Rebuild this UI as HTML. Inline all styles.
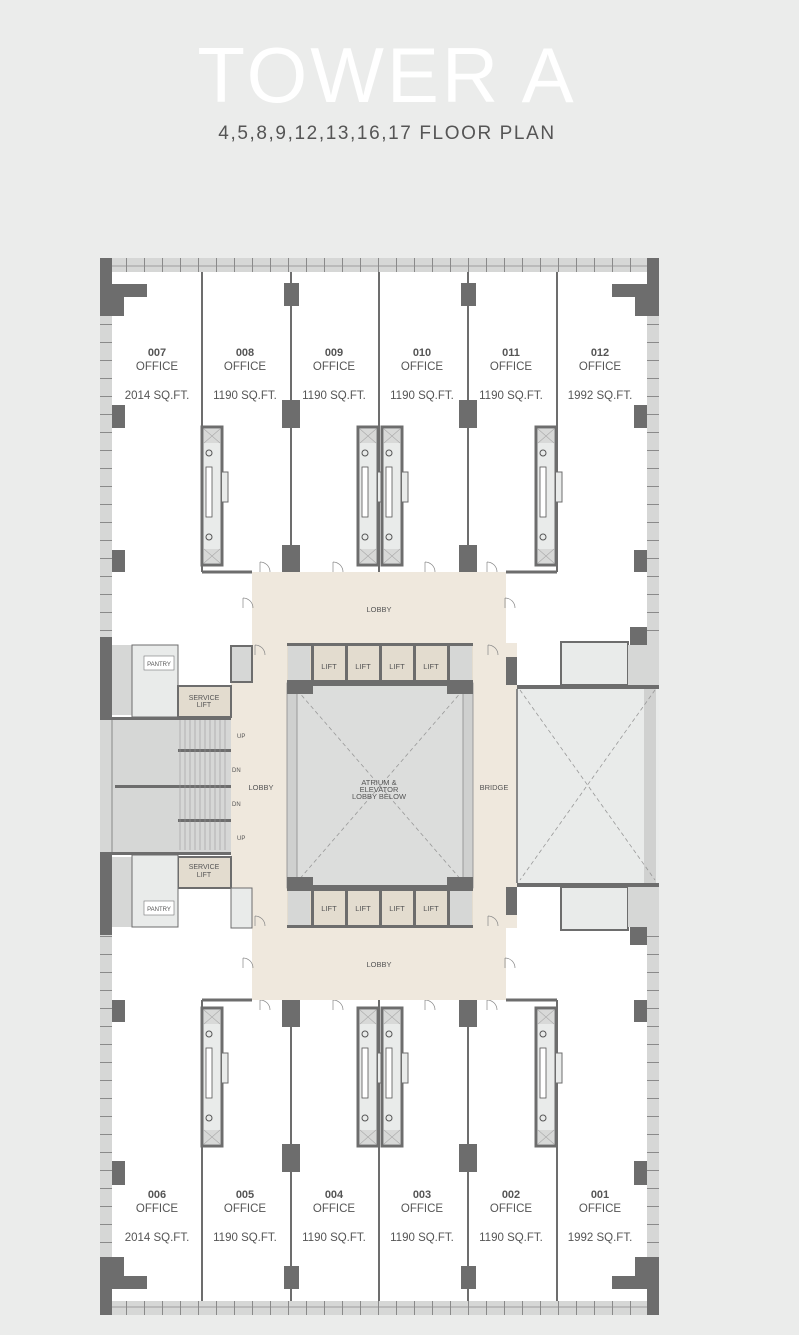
<!DOCTYPE html>
<html><head><meta charset="utf-8"><style>
html,body{margin:0;padding:0;background:#ebeceb;}
svg{display:block;font-family:"Liberation Sans",sans-serif;}
.t{fill:#555;text-anchor:middle;}
</style></head><body>
<svg width="799" height="1335" viewBox="0 0 799 1335" xmlns="http://www.w3.org/2000/svg">
<defs>
<pattern id="tick" width="18" height="14" patternUnits="userSpaceOnUse"><rect width="18" height="14" fill="#d6d7d6"/><line x1="0.5" y1="0" x2="0.5" y2="14" stroke="#8a8a8a"/></pattern>
<pattern id="vtick" width="10" height="18" patternUnits="userSpaceOnUse"><rect width="10" height="18" fill="#d6d7d6"/><line x1="0" y1="0.5" x2="10" y2="0.5" stroke="#8a8a8a"/></pattern>
<g id="core1">
 <rect x="0" y="0" width="20" height="138" fill="#e9ebea" stroke="#6d6d6d" stroke-width="3"/>
 <rect x="2" y="2" width="16" height="14" fill="#d8d9d8"/><path d="M2 2L18 16M18 2L2 16" stroke="#aaa" stroke-width=".6"/>
 <rect x="2" y="122" width="16" height="14" fill="#d8d9d8"/><path d="M2 122L18 136M18 122L2 136" stroke="#aaa" stroke-width=".6"/>
 <rect x="4" y="40" width="6" height="50" fill="#fff" stroke="#555" stroke-width=".8"/>
 <circle cx="7" cy="26" r="3" fill="none" stroke="#555"/><circle cx="7" cy="110" r="3" fill="none" stroke="#555"/>
 <path d="M20 45 L26 45 L26 75 L20 75" fill="#e9ebea" stroke="#6d6d6d" stroke-width="1"/>
</g>
<g id="door"><path d="M0 0 A10 10 0 0 1 10 10 M0 0V10" fill="none" stroke="#888" stroke-width=".7"/></g>
</defs>
<text x="387" y="102" font-size="78" fill="#fff" text-anchor="middle" letter-spacing="3">TOWER A</text>
<text x="387" y="139" font-size="19" fill="#555" text-anchor="middle" letter-spacing="1.6">4,5,8,9,12,13,16,17 FLOOR PLAN</text>

<rect x="100" y="258" width="559" height="1057" fill="#fff"/>
<rect x="112" y="258" width="535" height="14" fill="url(#tick)"/>
<line x1="112" y1="266" x2="647" y2="266" stroke="#8a8a8a" stroke-width=".8"/>
<rect x="112" y="1301" width="535" height="14" fill="url(#tick)"/>
<line x1="112" y1="1307" x2="647" y2="1307" stroke="#8a8a8a" stroke-width=".8"/>
<rect x="100" y="258" width="12" height="1057" fill="url(#vtick)"/>
<rect x="647" y="258" width="12" height="1057" fill="url(#vtick)"/>
<rect x="100" y="258" width="12" height="58" fill="#6d6d6d"/>
<path d="M112 284H147V297H124V316H112Z" fill="#6d6d6d"/>
<rect x="100" y="1257" width="12" height="58" fill="#6d6d6d"/>
<path d="M112 1276H147V1289H112Z M112 1257H124V1276H112Z" fill="#6d6d6d"/>
<rect x="647" y="258" width="12" height="58" fill="#6d6d6d"/>
<path d="M612 284H647V297H612Z M635 297H647V316H635Z" fill="#6d6d6d"/>
<rect x="647" y="1257" width="12" height="58" fill="#6d6d6d"/>
<path d="M612 1276H647V1289H612Z M635 1257H647V1276H635Z" fill="#6d6d6d"/>

<g stroke="#6d6d6d" stroke-width="2">
<line x1="202" y1="272" x2="202" y2="572"/><line x1="291" y1="272" x2="291" y2="572"/><line x1="379" y1="272" x2="379" y2="572"/><line x1="468" y1="272" x2="468" y2="572"/><line x1="557" y1="272" x2="557" y2="572"/>
<line x1="202" y1="1000" x2="202" y2="1301"/><line x1="291" y1="1000" x2="291" y2="1301"/><line x1="379" y1="1000" x2="379" y2="1301"/><line x1="468" y1="1000" x2="468" y2="1301"/><line x1="557" y1="1000" x2="557" y2="1301"/>
</g>
<g stroke="#6d6d6d" stroke-width="3">
<line x1="202" y1="572" x2="252" y2="572"/><line x1="506" y1="572" x2="557" y2="572"/>
<line x1="202" y1="1000" x2="252" y2="1000"/><line x1="506" y1="1000" x2="557" y2="1000"/>
</g>
<g fill="#6d6d6d">
<rect x="284" y="283" width="15" height="23"/><rect x="282" y="400" width="18" height="28"/><rect x="282" y="545" width="18" height="27"/>
<rect x="461" y="283" width="15" height="23"/><rect x="459" y="400" width="18" height="28"/><rect x="459" y="545" width="18" height="27"/>
<rect x="112" y="405" width="13" height="23"/><rect x="112" y="550" width="13" height="22"/>
<rect x="634" y="405" width="13" height="23"/><rect x="634" y="550" width="13" height="22"/>
<rect x="282" y="1000" width="18" height="27"/><rect x="282" y="1144" width="18" height="28"/><rect x="284" y="1266" width="15" height="23"/>
<rect x="459" y="1000" width="18" height="27"/><rect x="459" y="1144" width="18" height="28"/><rect x="461" y="1266" width="15" height="23"/>
<rect x="112" y="1000" width="13" height="22"/><rect x="112" y="1161" width="13" height="24"/>
<rect x="634" y="1000" width="13" height="22"/><rect x="634" y="1161" width="13" height="24"/>
</g>
<use href="#core1" x="202" y="427"/>
<use href="#core1" x="358" y="427"/><use href="#core1" x="382" y="427"/>
<use href="#core1" x="536" y="427"/>
<use href="#core1" x="202" y="1008"/>
<use href="#core1" x="358" y="1008"/><use href="#core1" x="382" y="1008"/>
<use href="#core1" x="536" y="1008"/>
<!-- doors along office fronts -->
<use href="#door" x="260" y="562"/><use href="#door" x="333" y="562"/><use href="#door" x="425" y="562"/><use href="#door" x="487" y="562"/>
<use href="#door" x="260" y="1000"/><use href="#door" x="333" y="1000"/><use href="#door" x="425" y="1000"/><use href="#door" x="487" y="1000"/>

<rect x="252" y="572" width="254" height="428" fill="#efe8dd"/>
<rect x="231" y="683" width="21" height="205" fill="#efe8dd"/>
<rect x="473" y="643" width="44" height="285" fill="#efe8dd"/>
<use href="#door" x="255" y="645"/><use href="#door" x="488" y="645"/>
<use href="#door" x="255" y="916"/><use href="#door" x="488" y="916"/>
<use href="#door" x="243" y="598"/><use href="#door" x="505" y="598"/>
<use href="#door" x="243" y="958"/><use href="#door" x="505" y="958"/>
<rect x="287" y="683" width="186" height="205" fill="#dcdddc"/>
<rect x="287" y="683" width="10" height="205" fill="#cfd0cf" stroke="#8a8a8a" stroke-width=".8"/>
<rect x="463" y="683" width="10" height="205" fill="#cfd0cf" stroke="#8a8a8a" stroke-width=".8"/>
<path d="M297 690L463 882M463 690L297 882" stroke="#999" stroke-width=".8" stroke-dasharray="4 3"/>
<g>
<rect x="287" y="643" width="186" height="40" fill="#e3dccf"/>
<rect x="287" y="643" width="186" height="3" fill="#6d6d6d"/>
<rect x="287" y="680" width="186" height="6" fill="#6d6d6d"/>
<rect x="287" y="680" width="26" height="14" fill="#6d6d6d"/><rect x="447" y="680" width="26" height="14" fill="#6d6d6d"/>
<rect x="288" y="646" width="22" height="34" fill="#d6d7d6"/><rect x="450" y="646" width="22" height="34" fill="#d6d7d6"/>
<g fill="#6d6d6d"><rect x="311" y="643" width="3" height="40"/><rect x="345" y="643" width="3" height="40"/><rect x="379" y="643" width="3" height="40"/><rect x="413" y="643" width="3" height="40"/><rect x="447" y="643" width="3" height="40"/></g>
<rect x="287" y="888" width="186" height="40" fill="#e3dccf"/>
<rect x="287" y="885" width="186" height="6" fill="#6d6d6d"/>
<rect x="287" y="925" width="186" height="3" fill="#6d6d6d"/>
<rect x="287" y="877" width="26" height="14" fill="#6d6d6d"/><rect x="447" y="877" width="26" height="14" fill="#6d6d6d"/>
<rect x="288" y="891" width="22" height="34" fill="#d6d7d6"/><rect x="450" y="891" width="22" height="34" fill="#d6d7d6"/>
<g fill="#6d6d6d"><rect x="311" y="888" width="3" height="40"/><rect x="345" y="888" width="3" height="40"/><rect x="379" y="888" width="3" height="40"/><rect x="413" y="888" width="3" height="40"/><rect x="447" y="888" width="3" height="40"/></g>
</g>
<g class="t" font-size="7.5">
<text x="329" y="669">LIFT</text><text x="363" y="669">LIFT</text><text x="397" y="669">LIFT</text><text x="431" y="669">LIFT</text>
<text x="329" y="911">LIFT</text><text x="363" y="911">LIFT</text><text x="397" y="911">LIFT</text><text x="431" y="911">LIFT</text>
<text x="379" y="612">LOBBY</text><text x="379" y="967">LOBBY</text>
<text x="261" y="790">LOBBY</text><text x="494" y="790">BRIDGE</text>
<text x="379" y="785">ATRIUM &amp;</text><text x="379" y="792">ELEVATOR</text><text x="379" y="799">LOBBY BELOW</text>
<text x="588" y="786">TERRACE</text><text x="588" y="793">BELOW</text>
</g>
<rect x="100" y="637" width="12" height="80" fill="#6d6d6d"/>
<rect x="112" y="645" width="20" height="70" fill="#d6d7d6"/>
<rect x="132" y="645" width="46" height="72" fill="#e9ebea" stroke="#6d6d6d" stroke-width="1"/>
<rect x="144" y="656" width="30" height="14" fill="#fff" stroke="#777" stroke-width=".6"/>
<text x="159" y="666" class="t" font-size="6">PANTRY</text>
<rect x="178" y="686" width="53" height="31" fill="#e3dccf" stroke="#6d6d6d" stroke-width="2"/>
<text x="204" y="700" class="t" font-size="7">SERVICE</text><text x="204" y="707" class="t" font-size="7">LIFT</text>
<rect x="231" y="646" width="21" height="36" fill="#d6d7d6" stroke="#6d6d6d" stroke-width="2"/>
<rect x="100" y="717" width="131" height="138" fill="#d6d7d6"/>
<rect x="100" y="717" width="131" height="3" fill="#6d6d6d"/>
<rect x="100" y="852" width="131" height="3" fill="#6d6d6d"/>
<rect x="115" y="785" width="116" height="3" fill="#6d6d6d"/>
<rect x="178" y="749" width="53" height="3" fill="#6d6d6d"/><rect x="178" y="819" width="53" height="3" fill="#6d6d6d"/>
<g stroke="#999" stroke-width=".6">
<path d="M180 720V850M185 720V850M190 720V850M195 720V850M200 720V850M205 720V850M210 720V850M215 720V850M220 720V850M225 720V850"/>
</g>
<line x1="112" y1="720" x2="112" y2="852" stroke="#888"/>
<g font-size="6" fill="#555"><text x="237" y="738">UP</text><text x="232" y="772">DN</text><text x="232" y="806">DN</text><text x="237" y="840">UP</text></g>
<rect x="178" y="857" width="53" height="31" fill="#e3dccf" stroke="#6d6d6d" stroke-width="2"/>
<text x="204" y="869" class="t" font-size="7">SERVICE</text><text x="204" y="877" class="t" font-size="7">LIFT</text>
<rect x="100" y="855" width="12" height="80" fill="#6d6d6d"/>
<rect x="112" y="857" width="20" height="70" fill="#d6d7d6"/>
<rect x="132" y="855" width="46" height="72" fill="#e9ebea" stroke="#6d6d6d" stroke-width="1"/>
<rect x="144" y="901" width="30" height="14" fill="#fff" stroke="#777" stroke-width=".6"/>
<text x="159" y="911" class="t" font-size="6">PANTRY</text>
<rect x="231" y="888" width="21" height="40" fill="#e9ebea" stroke="#6d6d6d" stroke-width="1"/>

<rect x="517" y="685" width="142" height="202" fill="#e9ebea"/>
<rect x="517" y="685" width="142" height="4" fill="#6d6d6d"/>
<rect x="517" y="883" width="142" height="4" fill="#6d6d6d"/>
<rect x="644" y="689" width="12" height="194" fill="#d0d1d0"/>
<line x1="517" y1="689" x2="517" y2="883" stroke="#888" stroke-width="2"/>
<path d="M520 690L655 880M655 690L520 880" stroke="#999" stroke-width=".8" stroke-dasharray="4 3"/>
<rect x="561" y="642" width="67" height="43" fill="#e9ebea" stroke="#6d6d6d" stroke-width="2"/>
<rect x="628" y="645" width="31" height="40" fill="#d6d7d6"/>
<rect x="630" y="627" width="17" height="18" fill="#6d6d6d"/>
<rect x="561" y="887" width="67" height="43" fill="#e9ebea" stroke="#6d6d6d" stroke-width="2"/>
<rect x="628" y="887" width="31" height="40" fill="#d6d7d6"/>
<rect x="630" y="927" width="17" height="18" fill="#6d6d6d"/>
<rect x="506" y="657" width="11" height="28" fill="#6d6d6d"/><rect x="506" y="887" width="11" height="28" fill="#6d6d6d"/>

<g class="t">
<g font-size="11" font-weight="bold">
<text x="157" y="356">007</text><text x="245" y="356">008</text><text x="334" y="356">009</text><text x="422" y="356">010</text><text x="511" y="356">011</text><text x="600" y="356">012</text>
<text x="157" y="1198">006</text><text x="245" y="1198">005</text><text x="334" y="1198">004</text><text x="422" y="1198">003</text><text x="511" y="1198">002</text><text x="600" y="1198">001</text>
</g>
<g font-size="11.5">
<text x="157" y="370">OFFICE</text><text x="245" y="370">OFFICE</text><text x="334" y="370">OFFICE</text><text x="422" y="370">OFFICE</text><text x="511" y="370">OFFICE</text><text x="600" y="370">OFFICE</text>
<text x="157" y="1212">OFFICE</text><text x="245" y="1212">OFFICE</text><text x="334" y="1212">OFFICE</text><text x="422" y="1212">OFFICE</text><text x="511" y="1212">OFFICE</text><text x="600" y="1212">OFFICE</text>
<text x="157" y="399">2014 SQ.FT.</text><text x="245" y="399">1190 SQ.FT.</text><text x="334" y="399">1190 SQ.FT.</text><text x="422" y="399">1190 SQ.FT.</text><text x="511" y="399">1190 SQ.FT.</text><text x="600" y="399">1992 SQ.FT.</text>
<text x="157" y="1241">2014 SQ.FT.</text><text x="245" y="1241">1190 SQ.FT.</text><text x="334" y="1241">1190 SQ.FT.</text><text x="422" y="1241">1190 SQ.FT.</text><text x="511" y="1241">1190 SQ.FT.</text><text x="600" y="1241">1992 SQ.FT.</text>
</g>
</g>
</svg>
</body></html>
